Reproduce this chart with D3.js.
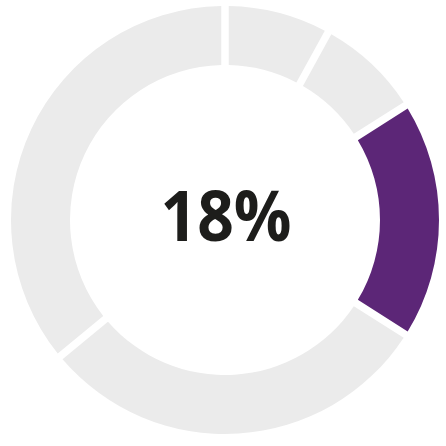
<!DOCTYPE html>
<html>
<head>
<meta charset="utf-8">
<script src="https://cdn.jsdelivr.net/npm/d3@7"></script>
<style>
html,body{margin:0;padding:0;background:#fff;}
svg{display:block;}
</style>
</head>
<body>
<svg id="chart" width="446" height="446"></svg>
<script>
const categories = ["A", "B", "C", "D", "E"];
const values = [8, 8, 18, 30, 36];
const highlight = "C";
const centerLabel = "18%";

const W = 446, H = 446;
const cx = 225, cy = 220;
const outerR = 214, innerR = 155;
const gap = 7.5;

const svg = d3.select("#chart");
const g = svg.append("g").attr("transform", `translate(${cx},${cy})`);

const data = categories.map((c, i) => ({cat: c, value: values[i]}));
const pie = d3.pie().value(d => d.value).sort(null);
const arc = d3.arc()
  .innerRadius(innerR)
  .outerRadius(outerR)
  .padRadius(outerR)
  .padAngle(gap / outerR);

g.selectAll("path")
  .data(pie(data))
  .join("path")
  .attr("d", arc)
  .attr("fill", d => d.data.cat === highlight ? "#5c2677" : "#ebebeb");

g.append("text")
  .attr("x", 1)
  .attr("y", -6)
  .attr("text-anchor", "middle")
  .attr("dominant-baseline", "central")
  .attr("font-family", "'Open Sans', sans-serif")
  .attr("font-weight", 700)
  .attr("font-size", 69)
  .attr("textLength", 131)
  .attr("lengthAdjust", "spacingAndGlyphs")
  .attr("fill", "#1d1d1b")
  .text(centerLabel);
</script>
</body>
</html>
